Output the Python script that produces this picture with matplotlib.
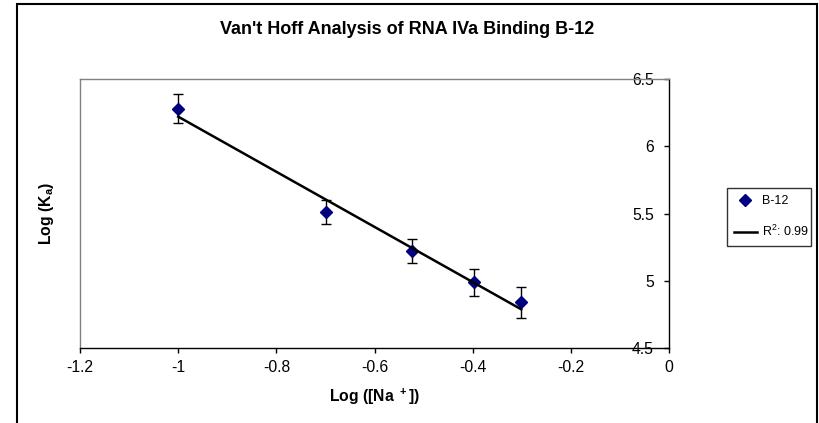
import numpy as np
import matplotlib
matplotlib.use("Agg")
import matplotlib.pyplot as plt
from matplotlib.lines import Line2D
from matplotlib.patches import Rectangle

plt.rcParams['font.family'] = ['Liberation Sans', 'DejaVu Sans']
plt.rcParams['mathtext.default'] = 'regular'

# Sodium concentration (log scale) vs. log association constant
log_na = [-1.0, -0.699, -0.523, -0.398, -0.301]
log_ka = [6.28, 5.51, 5.22, 4.99, 4.84]
log_ka_err = [0.105, 0.09, 0.09, 0.10, 0.115]
series_name = "B-12"

x_ticks = [-1.2, -1.0, -0.8, -0.6, -0.4, -0.2, 0.0]
x_tick_labels = ["-1.2", "-1", "-0.8", "-0.6", "-0.4", "-0.2", "0"]
y_ticks = [4.5, 5.0, 5.5, 6.0, 6.5]
y_tick_labels = ["4.5", "5", "5.5", "6", "6.5"]

W, H = 819, 423
fig = plt.figure(figsize=(W / 100, H / 100), dpi=100)

# chart area border (open at the bottom)
fig.patches.append(Rectangle((17 / W, -0.05), (817 - 17) / W, 1.05 - 4 / H,
                             transform=fig.transFigure, fill=False,
                             edgecolor='black', linewidth=1.5))

left, right, top, bottom = 80, 669, 79, 348
ax = fig.add_axes([left / W, 1 - bottom / H, (right - left) / W, (bottom - top) / H])

x = np.array(log_na)
y = np.array(log_ka)
slope, intercept = np.polyfit(x, y, 1)
fit = slope * x + intercept
r2 = 1 - np.sum((y - fit) ** 2) / np.sum((y - y.mean()) ** 2)

ax.errorbar(x, y, yerr=log_ka_err, fmt='none', ecolor='black',
            elinewidth=1, capsize=3.8, capthick=1, zorder=2)
ax.plot(x, y, linestyle='none', marker='D', markersize=6,
        color='#000080', zorder=3)
xf = np.array([x.min(), x.max()])
ax.plot(xf, slope * xf + intercept, color='black', linewidth=1.8, zorder=4)

ax.set_xlim(-1.2, 0)
ax.set_ylim(4.5, 6.5)

for side in ('top', 'left'):
    ax.spines[side].set_color('#808080')
    ax.spines[side].set_linewidth(1)
for side in ('bottom', 'right'):
    ax.spines[side].set_color('black')
    ax.spines[side].set_linewidth(1)

ax.set_xticks(x_ticks)
ax.set_xticklabels(x_tick_labels)
ax.set_yticks(y_ticks)
ax.set_yticklabels(y_tick_labels)

ax.tick_params(axis='x', direction='out', length=3.6, width=1, pad=5,
               labelsize=11.3, colors='black')
ax.tick_params(axis='y', left=False, right=True, labelleft=False,
               labelright=True, direction='in', length=3.6, width=1,
               pad=-11, labelsize=11.3)
for lab in ax.get_yticklabels():
    lab.set_horizontalalignment('right')

fig.text(407 / W, 1 - 30 / H, "Van't Hoff Analysis of RNA IVa Binding B-12",
         ha='center', va='center', fontsize=13, fontweight='bold')
fig.text(375 / W, 1 - 397 / H, "Log ([Na $^+$])", ha='center', va='center',
         fontsize=11.3, fontweight='bold')
fig.text(47 / W, 1 - 213 / H, "Log (K$_a$)", ha='center', va='center',
         rotation=90, fontsize=11.3, fontweight='bold')

handles = [
    Line2D([], [], linestyle='none', marker='D', markersize=6, color='#000080'),
    Line2D([], [], color='black', linewidth=1.8),
]
labels = [series_name, f"R$^2$: {r2:.2f}"]
leg = fig.legend(handles, labels, loc='center', mode='expand',
                 bbox_to_anchor=(727 / W, 1 - 247 / H, 84 / W, 60 / H),
                 frameon=True, fancybox=False, edgecolor='black', fontsize=9,
                 handlelength=1.85, handletextpad=0.4, borderpad=0.55,
                 labelspacing=1.35, borderaxespad=0)
leg.get_frame().set_linewidth(1)

fig.savefig("out.png", dpi=100)
